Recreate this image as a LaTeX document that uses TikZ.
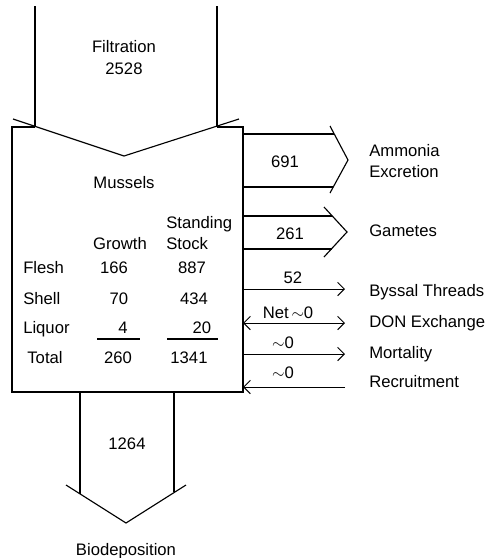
\documentclass[tikz,border=0pt]{standalone}
\usepackage{fontspec}
\setmainfont{Liberation Sans}
\usetikzlibrary{arrows.meta}
\tikzset{
  flow/.style={line width=0.85pt},
  txt/.style={font=\fontsize{12.5}{15}\selectfont, inner sep=0pt, text height=9pt, text depth=0pt},
  lbl/.style={txt, anchor=west},
  barb/.style={line width=0.75pt, -{Straight Barb[length=5pt,width=10pt]}},
  twobarb/.style={line width=0.75pt, {Straight Barb[length=5pt,width=10pt]}-{Straight Barb[length=5pt,width=10pt]}},
}
\begin{document}
\begin{tikzpicture}[x=0.75pt,y=-0.75pt]
  \useasboundingbox (0,0) rectangle (492,558);
  % Mussel box, notched by the filtration arrow
  \draw[flow] (35,127) -- (12,127) -- (12,392) -- (243,392) -- (243,127) -- (217,127);
  % Filtration
  \draw[flow] (35,6) -- (35,127);
  \draw[flow] (217,6) -- (217,127);
  \draw[flow] (13,119) -- (124,156) -- (239,119);
  \node[txt] (filt) at (124,46) {Filtration};
  \node[txt] (filtval) at (124,68) {2528};
  % Inside the box
  \node[txt] (mussels) at (124,182) {Mussels};
  \node[txt] (growth) at (120,243) {Growth};
  \node[txt,anchor=west] (standing) at (166,222) {Standing};
  \node[txt,anchor=west] (stock) at (166,243) {Stock};
  \node[lbl] (flesh) at (23,267) {Flesh};
  \node[lbl] (shell) at (23,298) {Shell};
  \node[lbl] (liquor) at (23,327) {Liquor};
  \node[txt] (total) at (45,357) {Total};
  \node[txt] (fg) at (114,267) {166};
  \node[txt] (sg) at (119,298) {70};
  \node[txt] (lg) at (123,327) {4};
  \node[txt] (tg) at (118,357) {260};
  \node[txt] (fs) at (192,267) {887};
  \node[txt] (ss) at (194,298) {434};
  \node[txt] (ls) at (202,327) {20};
  \node[txt] (ts) at (189,357) {1341};
  \draw[flow] (97,339) -- (140,339);
  \draw[flow] (167,339) -- (218,339);
  % Ammonia excretion
  \draw[flow] (243,134) -- (334,134);
  \draw[flow] (243,187) -- (333,187);
  \draw[flow] (330,126) -- (348,160) -- (330,193);
  \node[txt] (amval) at (285,161) {691};
  \node[lbl] (amm) at (369,150) {Ammonia};
  \node[lbl] (exc) at (369,171) {Excretion};
  % Gametes
  \draw[flow] (243,216) -- (332,216);
  \draw[flow] (243,249) -- (332,249);
  \draw[flow] (324,207) -- (347,232) -- (324,257);
  \node[txt] (gamval) at (290,233) {261};
  \node[lbl] (gam) at (369,230) {Gametes};
  % Small fluxes
  \draw[barb] (243,289) -- (345,289);
  \node[txt] (byval) at (293,277) {52};
  \node[lbl] (bys) at (369,290) {Byssal Threads};
  \draw[twobarb] (243,323) -- (345,323);
  \node[txt] (donval) at (288,312) {Net\,$\sim$0};
  \node[lbl] (don) at (369,321) {DON Exchange};
  \draw[barb] (243,354) -- (345,354);
  \node[txt] (morval) at (283,342) {$\sim$0};
  \node[lbl] (mor) at (369,352) {Mortality};
  \draw[barb] (345,387) -- (243,387);
  \node[txt] (recval) at (283,372) {$\sim$0};
  \node[lbl] (rec) at (369,381) {Recruitment};
  % Biodeposition
  \draw[flow] (80,392) -- (80,494);
  \draw[flow] (174,392) -- (174,492);
  \draw[flow] (66,485) -- (126,523) -- (186,485);
  \node[txt] (bioval) at (127,443) {1264};
  \node[txt] (bio) at (126,549) {Biodeposition};
\end{tikzpicture}
\end{document}
